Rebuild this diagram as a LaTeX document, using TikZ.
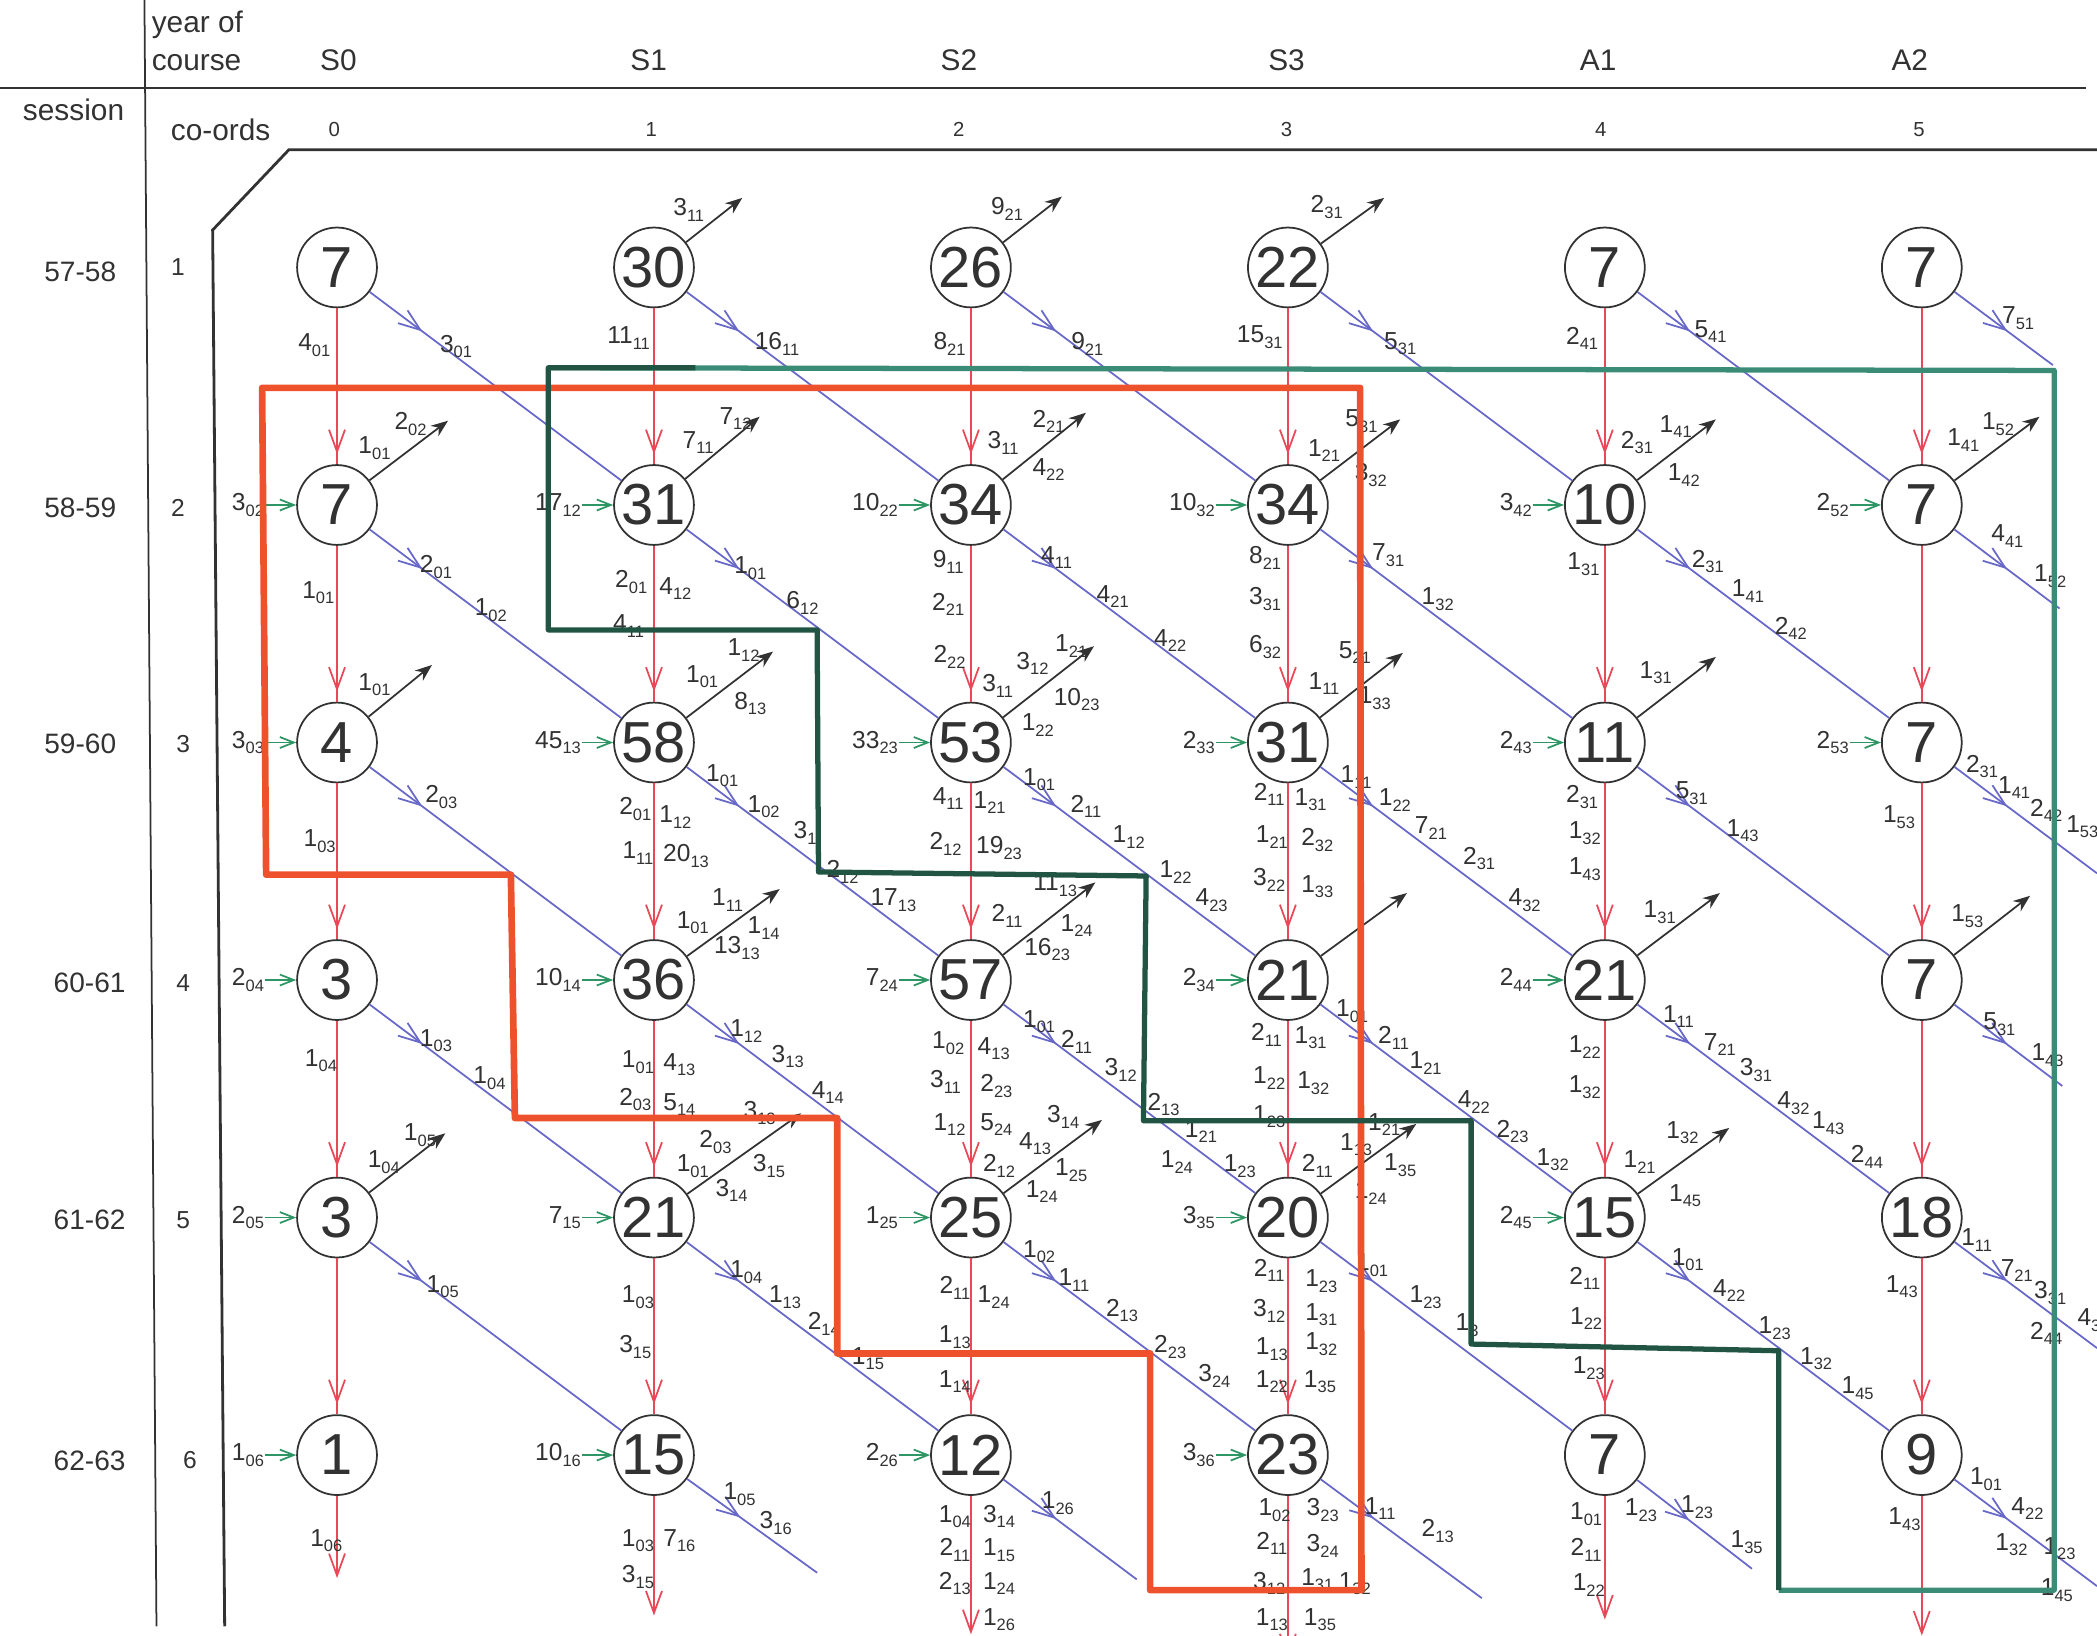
\documentclass[tikz,border=0pt]{standalone}
\usepackage{fontspec}
\setmainfont{Liberation Sans}
\usetikzlibrary{arrows.meta,decorations.markings,calc}
\definecolor{redl}{RGB}{232,72,88}
\definecolor{bluel}{RGB}{104,104,200}
\definecolor{greenl}{RGB}{46,150,100}
\definecolor{redb}{RGB}{238,82,44}
\definecolor{greenb}{RGB}{34,84,68}
\definecolor{greent}{RGB}{58,140,118}
\definecolor{ink}{RGB}{50,50,50}
\newcommand\fl[2]{#1\raisebox{-1.6pt}{\fontsize{4.7}{5}\selectfont#2}}
\tikzset{
 cell/.style={circle,draw=ink,line width=.5pt,fill=white,minimum size=.8cm,inner sep=0pt,text=ink,font=\fontsize{16.5}{18}\selectfont},
 lbl/.style={inner sep=0pt,text=ink,font=\fontsize{7}{8}\selectfont},
 hd/.style={inner sep=0pt,text=ink,font=\fontsize{8.5}{10.6}\selectfont},
 flowdown/.style={redl,line width=.5pt,postaction={decorate},decoration={markings,mark=at position -.1cm with {\arrow[redl]{Straight Barb[length=2.2mm,width=1.6mm]}}}},
 flowdiag/.style={bluel,line width=.5pt,postaction={decorate},decoration={markings,mark=at position .66cm with {\arrow[bluel]{Straight Barb[length=2.2mm,width=1.6mm]}}}},
 flowout/.style={redl,line width=.5pt,-{Straight Barb[length=2.2mm,width=1.6mm]}},
 leave/.style={ink,line width=.5pt,-{Stealth[length=1.7mm,width=1.3mm]}},
 enter/.style={greenl,line width=.5pt,-{Straight Barb[length=1.4mm,width=1.1mm]}},
 redbound/.style={redb,line width=1.9pt,line join=round},
 greenbound/.style={greenb,line width=1.5pt,line join=round}
}
\begin{document}
\begin{tikzpicture}[x=.0134cm,y=-.0134cm]
\useasboundingbox (0,0) rectangle (1568,1223);
% frame of the table
\draw[ink,line width=.5pt] (0,66) -- (1560,66);
\draw[ink,line width=.5pt] (108,0) -- (117,1216);
\draw[ink,line width=.8pt] (1568,112) -- (216,112) -- (159,172) -- (168,1216);
\node[hd,align=left,anchor=north west] (yc) at (113,8) {year of\\course};
\node[hd] (ses) at (55,82) {session};
\node[hd] (crd) at (165,97) {co-ords};
\foreach \x/\t [count=\k from 0] in {253/S0,485/S1,717/S2,962/S3,1195/A1,1428/A2}{\node[hd] (h\k) at (\x,45) {\t};}
\foreach \x [count=\k from 0] in {250,487,717,962,1197,1435}{\node[lbl,font=\fontsize{5.8}{7}\selectfont] (c\k) at (\x,97) {\k};}
\foreach \x/\y/\t [count=\k] in {60/203/57-58,60/380/58-59,60/556/59-60,67/735/60-61,67/912/61-62,67/1092/62-63}{\node[hd,font=\fontsize{8}{9}\selectfont] (s\k) at (\x,\y) {\t};}
\foreach \x/\y [count=\k] in {133/200,133/380,137/556,137/735,137/912,142/1092}{\node[lbl] (r\k) at (\x,\y) {\k};}
% the cells
\foreach \v [count=\k from 0] in {7,30,26,22,7,7,7,31,34,34,10,7,4,58,53,31,11,7,3,36,57,21,21,7,3,21,25,20,15,18,1,15,12,23,7,9}{
 \pgfmathtruncatemacro\c{mod(\k,6)}\pgfmathtruncatemacro\r{div(\k,6)+1}
 \node[cell] (n\c\r) at ({252+237*\c},{200+177.6*(\r-1)}) {\v};}
% flows between cells
\foreach \c in {0,...,5}{\foreach \r [evaluate=\r as \s using int(\r+1)] in {1,...,5}{\draw[flowdown] (n\c\r) -- (n\c\s);}}
\foreach \c [evaluate=\c as \d using int(\c+1)] in {0,...,4}{\foreach \r [evaluate=\r as \s using int(\r+1)] in {1,...,5}{\draw[flowdiag] (n\c\r) -- (n\d\s);}}
\foreach \n/\x/\y in {51/1535/273,52/1540/455,53/1568/653,54/1542/812,55/1568/1008,56/1568/1186,16/611/1176,26/850/1181,36/1108/1195,46/1310/1173}{\coordinate (e\n) at (\x,\y);\draw[flowdiag] (n\n) -- (e\n);}
\foreach \c/\y in {0/1180,1/1208,2/1222,3/1240,4/1211,5/1223}{\coordinate (b\c) at ({252+237*\c},\y);\draw[flowout] (n\c6) -- (b\c);}
\foreach \n/\dx/\dy in {11/66/-52,21/68/-53,31/72/-52,02/83/-63,12/79/-66,22/86/-69,32/84/-64,42/83/-64,52/88/-66,03/71/-58,13/89/-68,23/92/-72,33/86/-67,43/83/-64,14/94/-68,24/93/-73,34/89/-65,44/86/-65,54/81/-63,05/81/-63,15/110/-78,25/98/-73,35/96/-70,45/93/-67}{\coordinate (u\n) at ($(n\n)+(\dx,\dy)$);\draw[leave] (n\n) -- (u\n);}
\foreach \n/\a/\b in {02/3/02,12/17/12,22/10/22,32/10/32,42/3/42,52/2/52,03/3/03,13/45/13,23/33/23,33/2/33,43/2/43,53/2/53,04/2/04,14/10/14,24/7/24,34/2/34,44/2/44,05/2/05,15/7/15,25/1/25,35/3/35,45/2/45,06/1/06,16/10/16,26/2/26,36/3/36}{\coordinate (i\n) at ($(n\n)+(-54,0)$);\draw[enter] (i\n) node[lbl,anchor=east]{\fl{\a}{\b}} -- (n\n);}
% numbers on the flows
\foreach \x/\y/\a/\b [count=\k] in {235/258/4/01,341/259/3/01,515/157/3/11,470/253/11/11,581/257/16/11,753/156/9/21,710/257/8/21,813/257/9/21,992/155/2/31,942/252/15/31,1047/257/5/31,1183/253/2/41,1279/248/5/41,1509/238/7/51,
280/335/1/01,307/317/2/02,238/443/1/01,326/424/2/01,367/456/1/02,
522/331/7/11,550/313/7/12,472/435/2/01,505/440/4/12,470/468/4/11,561/425/1/01,600/451/6/12,
750/331/3/11,784/315/2/21,784/351/4/22,709/420/9/11,709/452/2/21,710/491/2/22,790/417/4/11,832/446/4/21,875/479/4/22,
990/337/1/21,1018/315/5/31,1025/355/3/32,946/417/8/21,946/448/3/31,946/484/6/32,1038/415/7/31,1075/448/1/32,
1224/331/2/31,1253/319/1/41,1259/355/1/42,1184/422/1/31,1277/420/2/31,1307/442/1/41,1339/470/2/42,
1468/329/1/41,1494/317/1/52,1501/401/4/41,1533/431/1/52,
280/512/1/01,239/629/1/03,330/596/2/03,
525/506/1/01,556/486/1/12,561/526/8/13,475/605/2/01,505/611/1/12,477/638/1/11,513/640/20/13,540/580/1/01,571/603/1/02,602/623/3/1,630/652/2/12,668/673/17/13,
746/513/3/11,772/496/3/12,801/483/1/21,805/523/10/23,776/542/1/22,709/597/4/11,740/600/1/21,707/631/2/12,747/634/19/23,777/583/1/01,812/603/2/11,844/626/1/12,879/652/1/22,906/673/4/23,
990/511/1/11,1013/488/5/21,1028/522/1/33,949/594/2/11,980/598/1/31,951/626/1/21,985/628/2/32,949/658/3/22,985/663/1/33,1014/581/1/11,1043/598/1/22,1070/619/7/21,1106/642/2/31,1140/673/4/32,
1238/503/1/31,1183/596/2/31,1185/623/1/32,1185/650/1/43,1265/593/5/31,1303/621/1/43,
1420/611/1/53,1482/573/2/31,1506/589/1/41,1530/606/2/42,1557/618/1/53,
240/793/1/04,326/778/1/03,366/806/1/04,
518/690/1/01,544/673/1/11,571/694/1/14,551/709/13/13,477/794/1/01,508/796/4/13,475/822/2/03,508/826/5/14,558/771/1/12,589/790/3/13,619/817/4/14,
753/685/2/11,789/662/11/13,805/692/1/24,783/710/16/23,709/780/1/02,743/784/4/13,707/809/3/11,745/812/2/23,710/841/1/12,745/841/5/24,777/764/1/01,805/779/2/11,838/800/3/12,870/826/2/13,898/846/1/21,927/872/1/23,880/869/1/24,
947/774/2/11,980/776/1/31,949/806/1/22,982/810/1/32,949/835/1/23,1011/756/1/01,1042/776/2/11,1066/795/1/21,1102/824/4/22,1131/846/2/23,1161/867/1/32,
1241/682/1/31,1185/783/1/22,1185/813/1/32,1255/760/1/11,1286/781/7/21,1313/800/3/31,1341/825/4/32,1367/840/1/43,1396/865/2/44,
1471/685/1/53,1495/766/5/31,1531/789/1/43,
287/869/1/04,314/849/1/05,331/962/1/05,
518/872/1/01,535/854/2/03,568/832/3/13,575/872/3/15,547/890/3/14,477/970/1/03,475/1007/3/15,558/951/1/04,587/970/1/13,616/990/2/14,649/1016/1/15,
747/872/2/12,774/855/4/13,795/835/3/14,801/875/1/25,779/891/1/24,714/963/2/11,743/970/1/24,714/1000/1/13,714/1033/1/14,777/936/1/02,803/957/1/11,839/980/2/13,875/1007/2/23,908/1029/3/24,
985/872/2/11,1014/856/1/13,1035/841/1/21,1047/871/1/35,1025/892/1/24,949/950/2/11,988/958/1/23,949/980/3/12,988/983/1/31,951/1009/1/13,988/1005/1/32,951/1033/1/22,987/1033/1/35,1026/946/1/01,1066/970/1/23,1097/991/1/3,
1226/869/1/21,1258/847/1/32,1260/894/1/45,1185/956/2/11,1186/986/1/22,1188/1023/1/23,1262/942/1/01,1293/965/4/22,1327/993/1/23,1358/1016/1/32,1389/1038/1/45,
1422/962/1/43,1478/927/1/11,1508/950/7/21,1533/967/3/31,1562/987/4/3,1530/997/2/44,
244/1152/1/06,
477/1152/1/03,508/1152/7/16,477/1179/3/15,553/1117/1/05,580/1139/3/16,
714/1134/1/04,747/1134/3/14,714/1159/2/11,747/1159/1/15,714/1184/2/13,747/1184/1/24,747/1211/1/26,791/1124/1/26,
953/1129/1/02,989/1129/3/23,951/1154/2/11,989/1156/3/24,949/1184/3/12,985/1181/1/31,1013/1184/1/32,951/1211/1/13,987/1211/1/35,1032/1128/1/11,1075/1145/2/13,
1186/1132/1/01,1186/1159/2/11,1188/1185/1/22,1227/1129/1/23,1269/1127/1/23,1306/1153/1/35,
1424/1136/1/43,1485/1106/1/01,1516/1128/4/22,1504/1155/1/32,1540/1158/1/23,1538/1189/1/45}{\node[lbl] (t\k) at (\x,\y) {\fl{\a}{\b}};}
% the two bounds
\draw[redbound] (196,290) -- (1017,290) -- (1018,1189) -- (860,1189) -- (860,1012) -- (626,1012) -- (626,836) -- (385,836) -- (382,654) -- (199,654) -- cycle;
\draw[greenbound,greent] (410,275) -- (1536,277) -- (1536,1189) -- (1330,1189);
\draw[greenbound] (1330,1189) -- (1330,1010) -- (1100,1005) -- (1100,838) -- (855,838) -- (857,655) -- (612,652) -- (611,471) -- (410,471) -- (410,275) -- (520,275);
\end{tikzpicture}
\end{document}
